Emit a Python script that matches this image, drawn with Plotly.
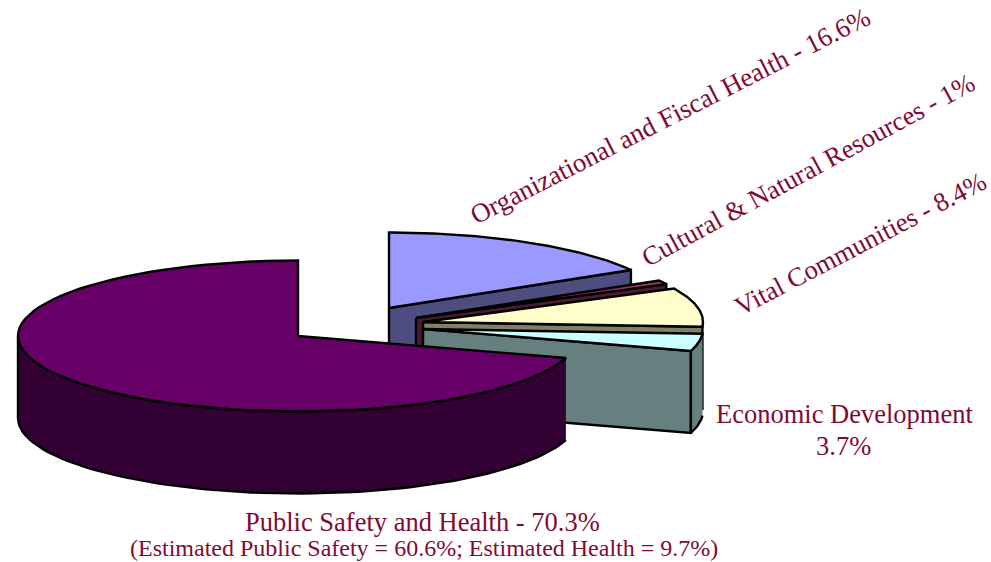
import numpy as np
import plotly.graph_objects as go

# --- data ---
categories = ["Public Safety and Health", "Organizational and Fiscal Health",
              "Cultural & Natural Resources", "Vital Communities", "Economic Development"]
shares = [70.3, 16.6, 1.0, 8.4, 3.7]
value_labels = ["70.3%", "16.6%", "1%", "8.4%", "3.7%"]
estimate_note = "(Estimated Public Safety = 60.6%; Estimated Health = 9.7%)"

# --- geometry / style ---
RX, RY, DEPTH = 280.0, 75.5, 82.0
CENTERS = {"Public Safety and Health": (298, 336), "Organizational and Fiscal Health": (389, 308),
           "Cultural & Natural Resources": (416, 318), "Vital Communities": (423, 322),
           "Economic Development": (423, 329)}
TOP = {"Public Safety and Health": "#660066", "Organizational and Fiscal Health": "#9999FF",
       "Cultural & Natural Resources": "#993366", "Vital Communities": "#FFFFCC",
       "Economic Development": "#CCFFFF"}
SIDE = {"Public Safety and Health": "#330033", "Organizational and Fiscal Health": "#4D4D80",
        "Cultural & Natural Resources": "#4D1933", "Vital Communities": "#808066",
        "Economic Development": "#668080"}
TEXT = "#7F0A35"
FONT = "Liberation Serif"

# start angles, clockwise from 12 o'clock; the big slice runs anticlockwise from 0
ang = {}
cum = 0.0
ang[categories[0]] = (360 - shares[0] * 3.6, 360.0)
for c, s in zip(categories[1:], shares[1:]):
    ang[c] = (cum * 3.6, (cum + s) * 3.6)
    cum += s


def pt(c, deg):
    cx, cy = CENTERS[c]
    t = np.radians(deg)
    return cx + RX * np.sin(t), cy - RY * np.cos(t)


def arc(c, a0, a1, n=80):
    return pt(c, np.linspace(a0, a1, n))


fig = go.Figure()


def poly(name, xs, ys, color):
    fig.add_trace(go.Scatter(x=list(xs), y=list(ys), name=name, mode="lines", fill="toself",
                             fillcolor=color, line=dict(color="black", width=2.4),
                             hoverinfo="name", showlegend=False))


for c in categories[1:] + categories[:1]:
    a0, a1 = ang[c]
    cx, cy = CENTERS[c]
    if c == categories[0]:
        # outer wall: front half of the rim
        ax, ay = arc(c, a0, 270)
        poly(c, np.r_[ax, ax[::-1]], np.r_[ay, ay[::-1] + DEPTH], SIDE[c])
    else:
        ex, ey = pt(c, a1)
        # radial wall on the closing edge
        poly(c, [cx, ex, ex, cx, cx], [cy, ey, ey + DEPTH, cy + DEPTH, cy], SIDE[c])
        # outer wall of the last slice, the only one whose rim is in view
        if c == categories[-1]:
            ax, ay = arc(c, a0, a1, 30)
            poly(c, np.r_[ax, ax[::-1]], np.r_[ay, ay[::-1] + DEPTH], SIDE[c])
    tx, ty = arc(c, a0, a1)
    poly(c, np.r_[cx, tx, cx], np.r_[cy, ty, cy], TOP[c])

def note(text, x, y, size, angle=0):
    fig.add_annotation(x=x, y=y, xref="x", yref="y", text=text, showarrow=False, textangle=angle,
                       font=dict(family=FONT, size=size, color=TEXT), align="center",
                       xanchor="center", yanchor="middle")

note(f"{categories[1]} - {value_labels[1]}", 670, 116, 26.8, -27)
note(f"{categories[2]} - {value_labels[2]}", 808, 170, 26.6, -28.5)
note(f"{categories[3]} - {value_labels[3]}", 860, 244, 26.6, -27.5)
note(categories[4], 844.5, 414, 26.5)
note(value_labels[4], 843, 446, 26.5)
note(f"{categories[0]} - {value_labels[0]}", 422.5, 522, 26.5)
note(estimate_note, 424, 548, 24)

fig.update_layout(width=991, height=562, margin=dict(l=0, r=0, t=0, b=0), autosize=False,
                  paper_bgcolor="white", plot_bgcolor="white", showlegend=False,
                  xaxis=dict(range=[0, 991], visible=False),
                  yaxis=dict(range=[562, 0], visible=False))
fig.write_html("out.html", config=dict(displayModeBar=False),
               post_script="document.body.style.margin='0';")
